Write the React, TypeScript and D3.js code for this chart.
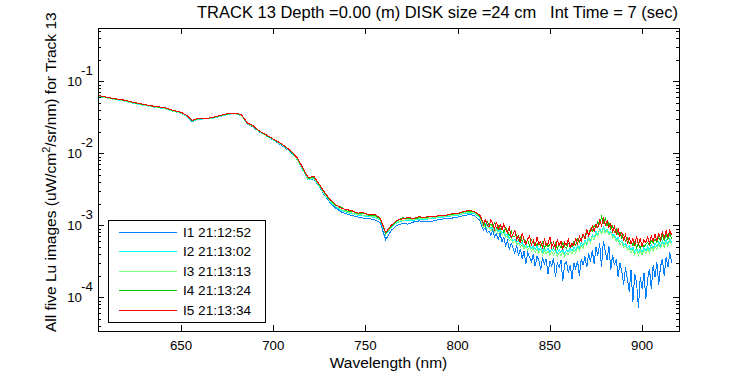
import React from 'react';
import * as d3 from 'd3';

const wavelengths = [
  605, 608, 611, 614, 617, 620, 623, 626, 629, 632, 635, 638, 641, 644, 647, 650, 653, 656, 659, 662,
  665, 668, 671, 674, 677, 680, 683, 686, 689, 692, 695, 698, 701, 704, 707, 710, 713, 716, 719, 722,
  725, 728, 731, 734, 737, 740, 743, 746, 749, 752, 755, 758, 761, 764, 767, 770, 773, 776, 779, 782,
  785, 788, 791, 794, 797, 800, 803, 806, 809, 812,
  813, 814, 815, 816, 817, 818, 819, 820, 821, 822, 823, 824, 825, 826, 827, 828, 829, 830, 831, 832,
  833, 834, 835, 836, 837, 838, 839, 840, 841, 842, 843, 844, 845, 846, 847, 848, 849, 850, 851, 852,
  853, 854, 855, 856, 857, 858, 859, 860, 861, 862, 863, 864, 865, 866, 867, 868, 869, 870, 871, 872,
  873, 874, 875, 876, 877, 878, 879, 880, 881, 882, 883, 884, 885, 886, 887, 888, 889, 890, 891, 892,
  893, 894, 895, 896, 897, 898, 899, 900, 901, 902, 903, 904, 905, 906, 907, 908, 909, 910, 911, 912,
  913, 914, 915, 916,
];

const I1 = [
  0.0624, 0.0603, 0.0582, 0.0562, 0.055, 0.0531, 0.0507, 0.049, 0.0473, 0.0457, 0.0442, 0.0432, 0.0422, 0.0398, 0.038, 0.0363, 0.0331, 0.0275, 0.0299, 0.0302,
  0.0302, 0.0313, 0.0327, 0.0343, 0.0355, 0.0355, 0.0331, 0.0254, 0.0234, 0.0202, 0.0182, 0.0164, 0.0148, 0.0132, 0.0116, 0.01, 0.00822, 0.00589, 0.00427, 0.00442,
  0.00343, 0.00257, 0.00204, 0.00172, 0.00153, 0.00143, 0.00136, 0.0013, 0.00126, 0.00124, 0.0012, 0.00108, 0.000631, 0.000851, 0.001, 0.00106, 0.00104, 0.00111, 0.00115, 0.00114,
  0.00112, 0.00117, 0.00122, 0.00123, 0.00126, 0.0013, 0.00136, 0.0014, 0.00138, 0.00117,
  9.8e-4, 8.6e-4, 9.3e-4, 7.9e-4, 8.4e-4, 7.2e-4, 8.8e-4, 6.9e-4, 7.6e-4, 6.4e-4,
  7.8e-4, 5.9e-4, 6.8e-4, 5.2e-4, 6.1e-4, 4.6e-4, 5.6e-4, 4.9e-4, 4.1e-4, 5.3e-4,
  3.8e-4, 4.7e-4, 3.4e-4, 4.4e-4, 2.9e-4, 4.2e-4, 3.6e-4, 3.1e-4, 4.0e-4, 2.7e-4,
  3.7e-4, 3.3e-4, 2.4e-4, 3.6e-4, 2.9e-4, 3.4e-4, 2.1e-4, 3.2e-4, 2.7e-4, 3.5e-4,
  1.9e-4, 3.0e-4, 2.6e-4, 3.3e-4, 1.7e-4, 2.9e-4, 3.1e-4, 2.2e-4, 2.8e-4, 1.8e-4,
  3.0e-4, 2.5e-4, 3.2e-4, 2.0e-4, 3.4e-4, 2.8e-4, 3.7e-4, 2.6e-4, 4.1e-4, 3.1e-4,
  4.5e-4, 2.9e-4, 5.0e-4, 3.8e-4, 5.6e-4, 2.6e-4, 6.1e-4, 4.4e-4, 3.3e-4, 5.2e-4,
  2.4e-4, 3.9e-4, 2.8e-4, 3.4e-4, 1.9e-4, 3.0e-4, 2.3e-4, 1.5e-4, 2.6e-4, 1.8e-4,
  1.2e-4, 2.4e-4, 8.5e-5, 2.1e-4, 1.6e-4, 7.2e-5, 1.9e-4, 1.3e-4, 2.2e-4, 9.5e-5,
  1.8e-4, 2.5e-4, 1.3e-4, 2.8e-4, 1.9e-4, 3.1e-4, 1.5e-4, 2.7e-4, 3.4e-4, 2.0e-4,
  3.6e-4, 2.6e-4, 4.2e-4, 3.0e-4,
];

const I2 = [
  0.0619, 0.0598, 0.0578, 0.0558, 0.0545, 0.0527, 0.0503, 0.0486, 0.0469, 0.0454, 0.0438, 0.0429, 0.0419, 0.0395, 0.0377, 0.0361, 0.0329, 0.0279, 0.0296, 0.03,
  0.03, 0.031, 0.0325, 0.034, 0.0352, 0.0352, 0.0329, 0.0255, 0.0236, 0.0203, 0.0182, 0.0165, 0.0148, 0.0134, 0.0118, 0.0102, 0.00813, 0.00589, 0.00426, 0.00447,
  0.00347, 0.00263, 0.00211, 0.0018, 0.0016, 0.00151, 0.00145, 0.00138, 0.00135, 0.00132, 0.00129, 0.00118, 0.000741, 0.000933, 0.00109, 0.00115, 0.00118, 0.00118, 0.0012, 0.00121,
  0.00123, 0.00126, 0.00129, 0.00132, 0.00135, 0.00138, 0.00145, 0.00147, 0.00147, 0.00129,
  11.0e-4, 10.1e-4, 10.6e-4, 9.6e-4, 9.9e-4, 9.0e-4, 9.5e-4, 8.5e-4, 9.0e-4, 8.2e-4,
  8.8e-4, 7.8e-4, 8.1e-4, 7.3e-4, 7.5e-4, 6.6e-4, 6.9e-4, 6.1e-4, 6.4e-4, 5.8e-4,
  6.0e-4, 5.4e-4, 5.8e-4, 5.1e-4, 5.5e-4, 4.9e-4, 5.3e-4, 4.8e-4, 5.2e-4, 4.6e-4,
  5.1e-4, 4.5e-4, 5.0e-4, 4.3e-4, 4.9e-4, 4.4e-4, 4.8e-4, 4.2e-4, 4.7e-4, 4.3e-4,
  4.8e-4, 4.1e-4, 4.6e-4, 4.2e-4, 4.7e-4, 4.0e-4, 4.6e-4, 4.3e-4, 4.8e-4, 4.4e-4,
  5.0e-4, 4.5e-4, 5.3e-4, 4.8e-4, 5.7e-4, 5.2e-4, 6.2e-4, 5.6e-4, 6.8e-4, 6.2e-4,
  7.4e-4, 6.8e-4, 8.2e-4, 7.5e-4, 9.0e-4, 8.1e-4, 9.4e-4, 8.3e-4, 8.9e-4, 7.8e-4,
  8.3e-4, 7.1e-4, 7.5e-4, 6.4e-4, 6.8e-4, 5.8e-4, 6.2e-4, 5.3e-4, 5.6e-4, 4.9e-4,
  5.2e-4, 4.5e-4, 5.0e-4, 4.3e-4, 4.9e-4, 4.2e-4, 4.8e-4, 4.3e-4, 4.9e-4, 4.4e-4,
  5.1e-4, 4.6e-4, 5.4e-4, 4.8e-4, 5.6e-4, 5.0e-4, 5.9e-4, 5.2e-4, 6.1e-4, 5.4e-4,
  6.3e-4, 5.5e-4, 6.5e-4, 5.7e-4,
];

const I3 = [
  0.0625, 0.0605, 0.0584, 0.0564, 0.0551, 0.0532, 0.0509, 0.0491, 0.0474, 0.0459, 0.0443, 0.0433, 0.0423, 0.0399, 0.0381, 0.0365, 0.0332, 0.0282, 0.0299, 0.0303,
  0.0303, 0.0314, 0.0328, 0.0344, 0.0356, 0.0356, 0.0332, 0.0258, 0.0238, 0.0205, 0.0184, 0.0167, 0.015, 0.0135, 0.012, 0.0103, 0.00832, 0.00603, 0.00436, 0.00457,
  0.00355, 0.00269, 0.00216, 0.00184, 0.00164, 0.00155, 0.00148, 0.00141, 0.00138, 0.00135, 0.00132, 0.0012, 0.000758, 0.000955, 0.00112, 0.00117, 0.0012, 0.00121, 0.00123, 0.00124,
  0.00126, 0.00129, 0.00132, 0.00135, 0.00138, 0.00141, 0.00148, 0.00151, 0.00151, 0.00132,
  10.6e-4, 9.5e-4, 10.0e-4, 8.9e-4, 9.6e-4, 8.4e-4, 9.1e-4, 8.0e-4, 8.6e-4, 7.6e-4,
  8.3e-4, 7.3e-4, 7.7e-4, 6.8e-4, 7.0e-4, 6.1e-4, 6.5e-4, 5.7e-4, 6.0e-4, 5.4e-4,
  5.6e-4, 5.0e-4, 5.4e-4, 4.7e-4, 5.1e-4, 4.5e-4, 5.0e-4, 4.4e-4, 4.8e-4, 4.2e-4,
  4.7e-4, 4.1e-4, 4.6e-4, 3.9e-4, 4.5e-4, 4.0e-4, 4.4e-4, 3.8e-4, 4.3e-4, 3.9e-4,
  4.4e-4, 3.7e-4, 4.2e-4, 3.8e-4, 4.3e-4, 3.6e-4, 4.2e-4, 3.9e-4, 4.4e-4, 4.0e-4,
  4.6e-4, 4.1e-4, 4.9e-4, 4.4e-4, 5.3e-4, 4.8e-4, 5.8e-4, 5.2e-4, 6.4e-4, 5.7e-4,
  7.0e-4, 6.3e-4, 7.8e-4, 7.0e-4, 8.6e-4, 7.6e-4, 9.0e-4, 7.8e-4, 8.5e-4, 7.3e-4,
  7.9e-4, 6.7e-4, 7.1e-4, 6.0e-4, 6.4e-4, 5.4e-4, 5.8e-4, 4.9e-4, 5.2e-4, 4.5e-4,
  4.8e-4, 4.1e-4, 4.6e-4, 3.9e-4, 4.5e-4, 3.8e-4, 4.4e-4, 3.9e-4, 4.5e-4, 4.0e-4,
  4.7e-4, 4.2e-4, 5.0e-4, 4.4e-4, 5.2e-4, 4.6e-4, 5.5e-4, 4.8e-4, 5.7e-4, 5.0e-4,
  5.9e-4, 5.1e-4, 6.1e-4, 5.3e-4,
];

const I4 = [
  0.0632, 0.0611, 0.059, 0.0569, 0.0556, 0.0538, 0.0514, 0.0496, 0.0479, 0.0463, 0.0447, 0.0438, 0.0428, 0.0403, 0.0385, 0.0368, 0.0336, 0.0285, 0.0302, 0.0306,
  0.0306, 0.0317, 0.0332, 0.0347, 0.0359, 0.0359, 0.0336, 0.026, 0.0241, 0.0207, 0.0186, 0.0168, 0.0151, 0.0137, 0.0121, 0.0104, 0.00851, 0.00616, 0.00446, 0.00468,
  0.00363, 0.00276, 0.00221, 0.00189, 0.00178, 0.00158, 0.00157, 0.00145, 0.00147, 0.00138, 0.00139, 0.00123, 0.000776, 0.000977, 0.00114, 0.00127, 0.00124, 0.00124, 0.00127, 0.00127,
  0.00131, 0.00132, 0.00137, 0.00138, 0.00143, 0.00145, 0.00152, 0.00157, 0.00154, 0.00135,
  11.6e-4, 11.0e-4, 9.8e-4, 11.4e-4, 10.0e-4, 10.4e-4, 9.6e-4, 10.8e-4, 9.0e-4, 9.9e-4,
  8.6e-4, 9.7e-4, 8.0e-4, 9.2e-4, 8.3e-4, 7.2e-4, 8.4e-4, 6.9e-4, 7.0e-4, 7.4e-4,
  6.2e-4, 6.9e-4, 6.0e-4, 6.5e-4, 5.8e-4, 6.2e-4, 5.2e-4, 6.3e-4, 5.5e-4, 5.8e-4,
  5.2e-4, 6.0e-4, 5.1e-4, 5.8e-4, 4.8e-4, 5.6e-4, 5.0e-4, 5.5e-4, 5.7e-4, 4.9e-4,
  5.6e-4, 4.7e-4, 5.5e-4, 4.9e-4, 5.7e-4, 5.1e-4, 4.8e-4, 5.6e-4, 5.2e-4, 5.0e-4,
  6.0e-4, 5.3e-4, 6.4e-4, 5.9e-4, 6.7e-4, 7.2e-4, 6.4e-4, 7.9e-4, 7.6e-4, 9.0e-4,
  8.4e-4, 9.9e-4, 9.2e-4, 11.3e-4, 10.2e-4, 13.1e-4, 10.7e-4, 12.6e-4, 9.8e-4, 10.9e-4,
  8.9e-4, 9.7e-4, 8.1e-4, 8.8e-4, 7.3e-4, 8.1e-4, 6.6e-4, 7.3e-4, 6.0e-4, 6.6e-4,
  5.6e-4, 6.1e-4, 5.2e-4, 5.9e-4, 4.9e-4, 5.6e-4, 4.8e-4, 5.5e-4, 5.0e-4, 5.4e-4,
  5.8e-4, 5.3e-4, 6.2e-4, 5.6e-4, 6.5e-4, 5.7e-4, 6.9e-4, 6.0e-4, 7.2e-4, 6.2e-4,
  7.5e-4, 6.3e-4, 7.8e-4, 6.5e-4,
];

const I5 = [
  0.0638, 0.0617, 0.0596, 0.0575, 0.0562, 0.0543, 0.0519, 0.0501, 0.0484, 0.0468, 0.0452, 0.0442, 0.0432, 0.0407, 0.0389, 0.0372, 0.0339, 0.0288, 0.0305, 0.0309,
  0.0309, 0.032, 0.0335, 0.0351, 0.0363, 0.0363, 0.0339, 0.0263, 0.0243, 0.0209, 0.0188, 0.017, 0.0153, 0.0138, 0.0122, 0.0105, 0.00871, 0.00631, 0.00457, 0.00479,
  0.00372, 0.00282, 0.00226, 0.00193, 0.00172, 0.00165, 0.00158, 0.00148, 0.00149, 0.00141, 0.00143, 0.00126, 0.000794, 0.001, 0.00117, 0.00123, 0.00128, 0.00125, 0.00131, 0.00129,
  0.00134, 0.00133, 0.00139, 0.00138, 0.00145, 0.00146, 0.00155, 0.00161, 0.00156, 0.00138,
  12.4e-4, 10.3e-4, 12.0e-4, 10.2e-4, 9.4e-4, 12.1e-4, 10.5e-4, 8.8e-4, 11.2e-4, 8.7e-4,
  10.2e-4, 8.6e-4, 10.4e-4, 8.7e-4, 7.8e-4, 9.6e-4, 6.8e-4, 7.6e-4, 8.6e-4, 6.3e-4,
  7.0e-4, 5.7e-4, 7.8e-4, 6.2e-4, 5.4e-4, 6.5e-4, 7.1e-4, 5.4e-4, 6.2e-4, 5.1e-4,
  6.8e-4, 5.5e-4, 5.9e-4, 4.9e-4, 6.4e-4, 5.3e-4, 5.6e-4, 6.9e-4, 5.0e-4, 5.8e-4,
  4.8e-4, 6.3e-4, 5.2e-4, 6.0e-4, 4.7e-4, 5.8e-4, 5.3e-4, 6.4e-4, 4.9e-4, 5.7e-4,
  5.2e-4, 6.5e-4, 5.6e-4, 7.0e-4, 6.0e-4, 7.6e-4, 6.6e-4, 8.8e-4, 7.2e-4, 8.3e-4,
  9.8e-4, 8.3e-4, 10.5e-4, 9.2e-4, 11.8e-4, 9.9e-4, 12.4e-4, 10.1e-4, 11.6e-4, 9.3e-4,
  10.4e-4, 8.2e-4, 9.6e-4, 7.6e-4, 8.9e-4, 7.0e-4, 8.0e-4, 6.3e-4, 7.4e-4, 5.7e-4,
  6.8e-4, 5.5e-4, 6.6e-4, 5.2e-4, 7.0e-4, 5.4e-4, 6.5e-4, 5.1e-4, 6.3e-4, 5.7e-4,
  6.9e-4, 5.6e-4, 7.1e-4, 6.0e-4, 7.6e-4, 6.1e-4, 7.9e-4, 6.4e-4, 8.2e-4, 6.6e-4,
  8.4e-4, 6.9e-4, 8.6e-4, 7.3e-4,
];

const seriesLabels = ['I1 21:12:52', 'I2 21:13:02', 'I3 21:13:13', 'I4 21:13:24', 'I5 21:13:34'];
const seriesColors = ['#0080ff', '#00ffff', '#80ff80', '#00cc00', '#ff0000'];
const xTickValues = [650, 700, 750, 800, 850, 900];
const xDomain = [605, 920];
const yDomain = [3.4e-5, 0.551];
const titleText = 'TRACK 13 Depth =0.00 (m) DISK size =24 cm   Int Time = 7 (sec)';
const xLabelText = 'Wavelength (nm)';

const W = 750;
const H = 375;
const plot = { left: 98, right: 679, top: 28, bottom: 331 };
const FONT = '"Liberation Sans", Arial, Helvetica, sans-serif';

export default function App() {
  const x = d3.scaleLinear().domain(xDomain).range([plot.left, plot.right]);
  const y = d3.scaleLog().domain(yDomain).range([plot.bottom, plot.top]);
  const series = [I1, I2, I3, I4, I5];
  const lineGen = (vals: number[]) =>
    d3.line<number>().x((_, i) => x(wavelengths[i])).y((d) => y(d))(vals) as string;

  const yTicksAll = y.ticks();
  const isMajor = (v: number) => Math.abs(Math.log10(v) - Math.round(Math.log10(v))) < 1e-6;
  const yMajor = yTicksAll.filter(isMajor);
  const yMinor = yTicksAll.filter((v) => !isMajor(v));

  const majorLen = 6;
  const minorLen = 3;
  const tickFs = 13.3;

  return (
    <svg width={W} height={H} style={{ position: 'absolute', left: 0, top: 0, background: '#fff' }} fontFamily={FONT}>
      <rect x={0} y={0} width={W} height={H} fill="#fff" />
      <defs>
        <clipPath id="plotclip">
          <rect x={plot.left} y={plot.top} width={plot.right - plot.left} height={plot.bottom - plot.top} />
        </clipPath>
      </defs>
      <g clipPath="url(#plotclip)">
        {series.map((s, i) => (
          <path key={i} d={lineGen(s)} fill="none" stroke={seriesColors[i]} strokeWidth={1} shapeRendering="crispEdges" />
        ))}
      </g>
      <rect x={plot.left + 0.5} y={plot.top + 0.5} width={plot.right - plot.left} height={plot.bottom - plot.top} fill="none" stroke="#000" strokeWidth={1} shapeRendering="crispEdges" />
      {xTickValues.map((t) => {
        const px = Math.round(x(t)) + 0.5;
        return (
          <g key={t}>
            <line x1={px} x2={px} y1={plot.bottom} y2={plot.bottom - majorLen} stroke="#000" shapeRendering="crispEdges" />
            <line x1={px} x2={px} y1={plot.top} y2={plot.top + majorLen} stroke="#000" shapeRendering="crispEdges" />
            <text x={x(t)} y={350} textAnchor="middle" fontSize={tickFs} fill="#000">{t}</text>
          </g>
        );
      })}
      {yMinor.map((t, i) => {
        const py = Math.round(y(t)) + 0.5;
        return (
          <g key={'m' + i}>
            <line x1={plot.left} x2={plot.left + minorLen} y1={py} y2={py} stroke="#000" shapeRendering="crispEdges" />
            <line x1={plot.right} x2={plot.right - minorLen} y1={py} y2={py} stroke="#000" shapeRendering="crispEdges" />
          </g>
        );
      })}
      {yMajor.map((t, i) => {
        const py = Math.round(y(t)) + 0.5;
        const e = Math.round(Math.log10(t));
        return (
          <g key={'M' + i}>
            <line x1={plot.left} x2={plot.left + majorLen} y1={py} y2={py} stroke="#000" shapeRendering="crispEdges" />
            <line x1={plot.right} x2={plot.right - majorLen} y1={py} y2={py} stroke="#000" shapeRendering="crispEdges" />
            <text x={82} y={y(t) + 4.8} textAnchor="end" fontSize={tickFs} fill="#000">10</text>
            <text x={81} y={y(t) - 6} textAnchor="start" fontSize={tickFs} fill="#000">{String(e)}</text>
          </g>
        );
      })}
      <text x={197} y={18} fontSize={16.5} fill="#000" style={{ whiteSpace: 'pre' }}>{titleText}</text>
      <text x={(plot.left + plot.right) / 2} y={368} textAnchor="middle" fontSize={15.5} fill="#000">{xLabelText}</text>
      <text transform={`translate(56,332) rotate(-90)`} textAnchor="start" fontSize={15.5} fill="#000">
        All five Lu images (uW/cm<tspan dy={-6} fontSize={11}>2</tspan><tspan dy={6}>/sr/nm) for Track 13</tspan>
      </text>
      <rect x={108.5} y={220.5} width={157} height={102} fill="#fff" stroke="#000" strokeWidth={1} shapeRendering="crispEdges" />
      {seriesLabels.map((lab, i) => {
        const ry = Math.round(231.5 + i * 19.6) + 0.5;
        return (
          <g key={lab}>
            <line x1={119} x2={177} y1={ry} y2={ry} stroke={seriesColors[i]} strokeWidth={1} shapeRendering="crispEdges" />
            <text x={183} y={ry + 4.8} fontSize={13.6} fill="#000">{lab}</text>
          </g>
        );
      })}
    </svg>
  );
}
